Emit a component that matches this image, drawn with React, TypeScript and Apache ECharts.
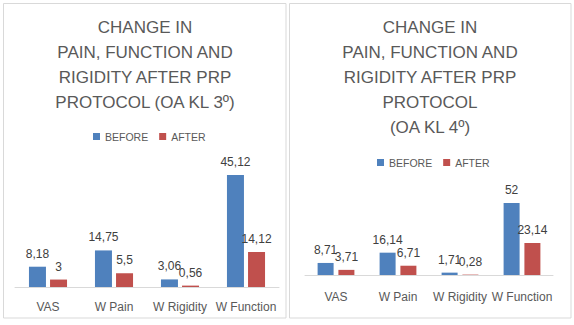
import React, { useEffect, useRef } from "react";
import * as echarts from "echarts";

const categories = ["VAS", "W Pain", "W Rigidity", "W Function"];
const seriesNames = ["BEFORE", "AFTER"];
const kl3Before = [8.18, 14.75, 3.06, 45.12];
const kl3After = [3, 5.5, 0.56, 14.12];
const kl4Before = [8.71, 16.14, 1.71, 52];
const kl4After = [3.71, 6.71, 0.28, 23.14];
const title3 = "CHANGE IN\nPAIN, FUNCTION AND\nRIGIDITY AFTER PRP\nPROTOCOL (OA KL 3º)";
const title4 = "CHANGE IN\nPAIN, FUNCTION AND\nRIGIDITY AFTER PRP\nPROTOCOL\n(OA KL 4º)";

const BLUE = "#4F81BD";
const RED = "#C0504D";
const FONT = "'Liberation Sans', Arial, sans-serif";

export default function App() {
  const ref = useRef<HTMLDivElement>(null);
  useEffect(() => {
    if (!ref.current) return;
    const chart = echarts.init(ref.current, null, { renderer: "svg" });
    const fmt = (p: any) => String(p.value).replace(".", ",");
    const label = {
      show: true,
      position: "top",
      distance: 7,
      color: "#404040",
      fontSize: 12,
      fontFamily: FONT,
      formatter: fmt,
    };
    const mkSeries = (name: string, data: number[], idx: number, color: string, bw: number, gap: string) => ({
      type: "bar",
      name,
      data,
      xAxisIndex: idx,
      yAxisIndex: idx,
      barWidth: bw,
      barGap: gap,
      itemStyle: { color },
      label,
    });
    const xAxis = (gridIndex: number, margin: number) => ({
      type: "category",
      gridIndex,
      data: categories,
      axisLine: { lineStyle: { color: "#D9D9D9", width: 1 } },
      axisTick: { show: false },
      axisLabel: { color: "#595959", fontSize: 12, fontFamily: FONT, margin, interval: 0, hideOverlap: false },
    });
    const yAxis = (gridIndex: number, max: number) => ({
      type: "value",
      gridIndex,
      min: 0,
      max,
      show: false,
      splitLine: { show: false },
    });
    const titleStyle = {
      color: "#595959",
      fontSize: 17,
      fontWeight: "normal",
      fontFamily: FONT,
      lineHeight: 25,
    };
    const legend = (left: number, top: number) => ({
      data: seriesNames,
      left,
      top,
      padding: 0,
      icon: "rect",
      itemWidth: 7,
      itemHeight: 7,
      itemGap: 11,
      textStyle: { color: "#595959", fontSize: 10.5, fontFamily: FONT },
    });
    chart.setOption({
      animation: false,
      backgroundColor: "#ffffff",
      graphic: [
        {
          type: "rect",
          shape: { x: 3.5, y: 3.5, width: 282.5, height: 314.5 },
          style: { fill: "#ffffff", stroke: "#D9D9D9", lineWidth: 1 },
          z: -10,
        },
        {
          type: "rect",
          shape: { x: 289.5, y: 3.5, width: 281.5, height: 314.5 },
          style: { fill: "#ffffff", stroke: "#D9D9D9", lineWidth: 1 },
          z: -10,
        },
      ],
      title: [
        { text: title3, left: 145, top: 15, padding: 0, textAlign: "center", textStyle: titleStyle },
        { text: title4, left: 430, top: 15, padding: 0, textAlign: "center", textStyle: titleStyle },
      ],
      legend: [legend(93, 131), legend(377, 157)],
      grid: [
        { left: 15, width: 264, top: 163, height: 124 },
        { left: 305, width: 248, top: 192, height: 83 },
      ],
      xAxis: [xAxis(0, 14), xAxis(1, 16)],
      yAxis: [yAxis(0, 50), yAxis(1, 60)],
      series: [
        mkSeries(seriesNames[0], kl3Before, 0, BLUE, 17, "24%"),
        mkSeries(seriesNames[1], kl3After, 0, RED, 17, "24%"),
        mkSeries(seriesNames[0], kl4Before, 1, BLUE, 16, "30%"),
        mkSeries(seriesNames[1], kl4After, 1, RED, 16, "30%"),
      ],
    });
    return () => chart.dispose();
  }, []);
  return (
    <div
      ref={ref}
      style={{ position: "fixed", left: 0, top: 0, width: 574, height: 325, background: "#fff" }}
    />
  );
}
